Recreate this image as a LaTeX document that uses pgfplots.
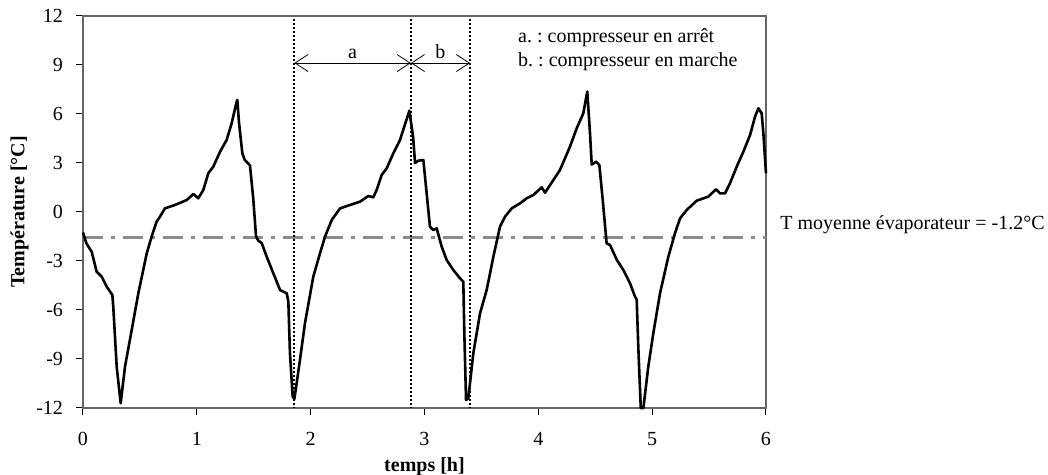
\documentclass[border=0pt]{standalone}
\usepackage{fontspec}
\setmainfont{Liberation Serif}
\usepackage{pgfplots}
\pgfplotsset{compat=1.18}
\usetikzlibrary{arrows.meta}
\frenchspacing
\begin{document}
\begin{tikzpicture}
\path[use as bounding box] (-41.5pt,-33.5pt) rectangle (482.5pt,204pt);
\begin{axis}[
  at={(0,0)}, anchor=south west,
  scale only axis, width=341.5pt, height=196pt,
  xmin=0, xmax=6, ymin=-12, ymax=12,
  xtick={0,1,2,3,4,5,6}, ytick={-12,-9,-6,-3,0,3,6,9,12},
  tick align=outside, tick pos=left,
  major tick length=3.5pt,
  axis line style={gray!80!black, line width=0.6pt},
  tick style={black, line width=0.5pt},
  /pgf/number format/assume math mode=true,
  xticklabel style={yshift=-5pt},
  yticklabel style={xshift=-3pt},
  xlabel={\textbf{temps [h]}},
  ylabel={\textbf{Température [°C]}},
  xlabel style={yshift=1pt},
  ylabel style={yshift=-3pt},
  clip=false,
]
\addplot[gray!90, line width=1.3pt, dash pattern=on 10pt off 4pt on 2pt off 4pt] coordinates {(0,-1.55) (6,-1.55)};
\addplot[black, line width=1pt, dash pattern=on 1pt off 1pt] coordinates {(1.857,11.8) (1.857,-12)};
\addplot[black, line width=1pt, dash pattern=on 1pt off 1pt] coordinates {(2.88,11.8) (2.88,-12)};
\addplot[black, line width=1pt, dash pattern=on 1pt off 1pt] coordinates {(3.40,11.8) (3.40,-12)};
\addplot[black, line width=1.3pt, line join=round] coordinates {
(0,-1.25) (0.03,-1.92) (0.076,-2.43) (0.12,-3.65) (0.164,-3.96) (0.208,-4.57)
(0.258,-5.08) (0.266,-5.80) (0.296,-9.47) (0.331,-11.71) (0.369,-9.47) (0.428,-7.22)
(0.486,-4.98) (0.56,-2.53) (0.603,-1.51) (0.647,-0.59) (0.676,-0.29) (0.72,0.22)
(0.808,0.43) (0.911,0.73) (0.969,1.10) (1.013,0.84) (1.057,1.35) (1.101,2.37)
(1.145,2.78) (1.204,3.69) (1.262,4.41) (1.306,5.43) (1.35,6.76) (1.356,6.86)
(1.37,5.5) (1.40,3.59) (1.42,3.2) (1.467,2.85) (1.496,0.8) (1.52,-1.5) (1.54,-1.75)
(1.57,-1.9) (1.614,-2.74) (1.672,-3.75) (1.731,-4.78) (1.79,-4.98) (1.804,-5.5)
(1.818,-8.65) (1.842,-11.31) (1.857,-11.45) (1.906,-9.06) (1.95,-6.81) (2.023,-3.96)
(2.082,-2.53) (2.126,-1.51) (2.185,-0.49) (2.258,0.22) (2.346,0.43) (2.433,0.63)
(2.506,0.98) (2.55,0.90) (2.58,1.35) (2.624,2.27) (2.668,2.67) (2.726,3.59)
(2.785,4.41) (2.858,6.0) (2.867,6.20) (2.90,4.6) (2.917,3.0) (2.946,3.14) (2.99,3.18)
(3.019,1.14) (3.048,-0.90) (3.077,-1.10) (3.107,-1.0) (3.151,-2.12) (3.195,-2.94)
(3.253,-3.55) (3.312,-4.06) (3.341,-4.27) (3.35,-7.43) (3.365,-11.51) (3.385,-11.41)
(3.429,-8.65) (3.488,-6.20) (3.546,-4.78) (3.605,-2.74) (3.663,-0.90) (3.707,-0.29)
(3.766,0.22) (3.839,0.53) (3.898,0.84) (3.956,1.04) (4.03,1.51) (4.059,1.18)
(4.103,1.65) (4.19,2.57) (4.278,4.0) (4.337,5.12) (4.395,6.04) (4.43,7.37)
(4.454,4.82) (4.469,2.9) (4.507,3.08) (4.536,2.88) (4.566,0.73) (4.60,-1.92)
(4.63,-2.02) (4.69,-2.94) (4.747,-3.55) (4.806,-4.37) (4.849,-5.18) (4.864,-5.35)
(4.879,-8.4) (4.9,-12.0) (4.923,-12.0) (4.966,-9.47) (5.01,-7.43) (5.069,-4.98)
(5.142,-2.74) (5.2,-1.31) (5.245,-0.39) (5.303,0.12) (5.391,0.69) (5.493,0.94)
(5.561,1.39) (5.596,1.14) (5.64,1.14) (5.684,1.76) (5.743,2.78) (5.801,3.69)
(5.86,4.71) (5.904,5.84) (5.933,6.35) (5.962,6.04) (5.977,4.82) (6.0,2.37)
};
\draw[{Straight Barb[length=6.5pt,width=8.5pt]}-{Straight Barb[length=6.5pt,width=8.5pt]}, line width=0.4pt]
  (axis cs:1.857,9.12) -- node[above, inner sep=2pt] {a} (axis cs:2.88,9.12);
\draw[{Straight Barb[length=6.5pt,width=8.5pt]}-{Straight Barb[length=6.5pt,width=8.5pt]}, line width=0.4pt]
  (axis cs:2.88,9.12) -- node[above, inner sep=2pt] {b} (axis cs:3.40,9.12);
\node[anchor=west, inner sep=0pt] at (axis cs:3.82,10.65) {a. : compresseur en arrêt};
\node[anchor=west, inner sep=0pt] at (axis cs:3.82,9.18) {b. : compresseur en marche};
\node[anchor=west, inner sep=0pt] at (axis cs:6.123,-0.8) {T moyenne évaporateur = -1.2°C};
\end{axis}
\end{tikzpicture}
\end{document}
